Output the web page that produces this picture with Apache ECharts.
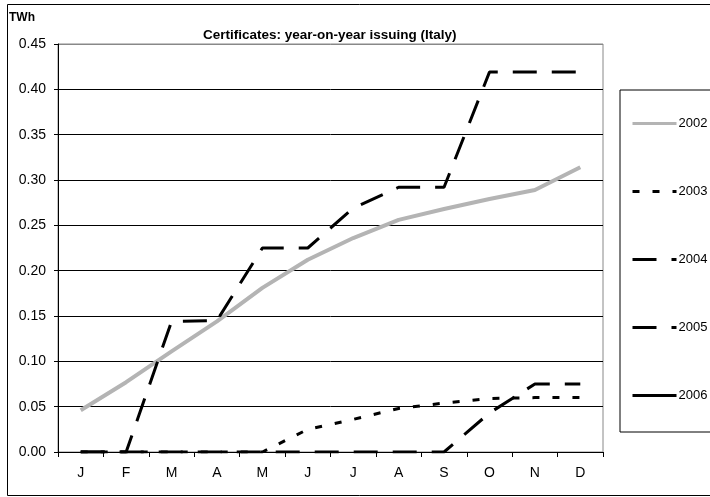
<!DOCTYPE html>
<html>
<head>
<meta charset="utf-8">
<script src="https://cdn.jsdelivr.net/npm/echarts@6/dist/echarts.min.js"></script>
<style>
  html, body { margin: 0; padding: 0; background: #fff; }
  #chart { width: 710px; height: 497px; }
</style>
</head>
<body>
<div id="chart"></div>
<script>
// 数据
const months = ["J", "F", "M", "A", "M", "J", "J", "A", "S", "O", "N", "D"];
const y2002 = [0.046, 0.077, 0.111, 0.144, 0.181, 0.212, 0.236, 0.256, 0.268, 0.279, 0.289, 0.314];
const y2003 = [0, 0, 0, 0, 0, 0.025, 0.036, 0.048, 0.054, 0.059, 0.06, 0.06];
const y2004 = [0, 0, 0.144, 0.145, 0.225, 0.225, 0.269, 0.292, 0.292, 0.419, 0.419, 0.419];
const y2005 = [0, 0, 0, 0, 0, 0, 0, 0, 0, 0.043, 0.075, 0.075];
const y2006 = [0];

const font = "'Liberation Sans', Arial, sans-serif";
const chart = echarts.init(document.getElementById("chart"), null, { renderer: "canvas" });

// 网格线：最上面一条是灰色边框
const gridColors = ["#000", "#000", "#000", "#000", "#000", "#000", "#000", "#000", "#000", "#888"];

function line(name, data, color, width, dash) {
  return {
    name: name,
    type: "line",
    data: data,
    symbol: "none",
    animation: false,
    lineStyle: { color: color, width: width, type: dash, cap: "butt" },
    itemStyle: { color: color },
  };
}

chart.setOption({
  animation: false,
  textStyle: { fontFamily: font },
  grid: { left: 58, right: 107, top: 44, bottom: 45, show: true, borderColor: "#888", borderWidth: 1 },
  title: {
    text: "Certificates: year-on-year issuing (Italy)",
    left: 198,
    top: 23,
    textStyle: { fontFamily: font, fontSize: 13.5, fontWeight: "bold", color: "#000" },
  },
  graphic: [
    { type: "rect", shape: { x: 7.5, y: 4.5, width: 720, height: 491 }, style: { fill: null, stroke: "#000", lineWidth: 1 }, z: 100 },
    { type: "text", left: 9, top: 12, style: { text: "TWh", font: "bold 12px " + font, fill: "#000" } },
  ],
  legend: {
    orient: "vertical",
    left: 620,
    top: 90,
    padding: [27, 90, 30, 11],
    itemGap: 55,
    itemWidth: 44,
    itemHeight: 14,
    borderColor: "#000",
    borderWidth: 1,
    itemStyle: { opacity: 0 },
    lineStyle: { width: 3 },
    textStyle: { fontFamily: font, fontSize: 13, color: "#000", padding: [0, 0, 0, -3] },
    data: ["2002", "2003", "2004", "2005", "2006"],
  },
  xAxis: {
    type: "category",
    data: months,
    boundaryGap: true,
    axisLine: { lineStyle: { color: "#000", width: 1 } },
    axisTick: { show: true, length: 5, lineStyle: { color: "#000" } },
    axisLabel: { color: "#000", fontSize: 14, fontFamily: font, margin: 14 },
  },
  yAxis: {
    type: "value",
    min: 0,
    max: 0.45,
    interval: 0.05,
    axisLine: { show: true, lineStyle: { color: "#000", width: 1 } },
    axisTick: { show: true, length: 4, lineStyle: { color: "#000" } },
    axisLabel: { color: "#000", fontSize: 14, fontFamily: font, margin: 12, formatter: (v) => v.toFixed(2) },
    splitLine: { show: true, lineStyle: { color: gridColors, width: 1 } },
  },
  series: [
    line("2002", y2002, "#b4b4b4", 4, "solid"),
    line("2003", y2003, "#000", 3, [7, 13]),
    line("2004", y2004, "#000", 3, [24, 15]),
    line("2005", y2005, "#000", 3, [24, 15]),
    line("2006", y2006, "#000", 3, "solid"),
  ],
});
</script>
</body>
</html>
